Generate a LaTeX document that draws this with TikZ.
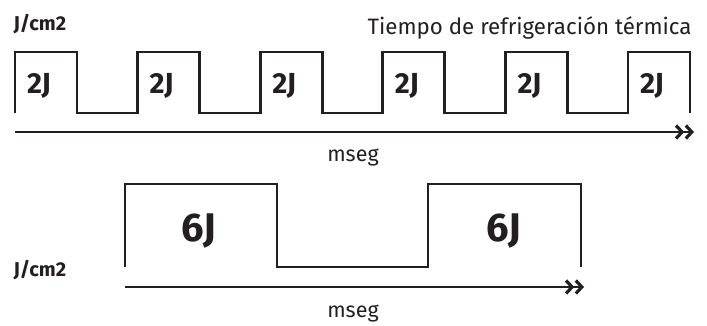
\documentclass[tikz,border=0pt]{standalone}
\usepackage{fontspec}
\setmainfont{Fira Sans}
\usetikzlibrary{arrows.meta}
\definecolor{ink}{RGB}{35,31,32}

\tikzset{
  wave/.style={line width=2.8pt, line join=miter},
  axis/.style={line width=2.8pt, -{Straight Barb[length=6pt,width=13pt,line width=3.2pt]Straight Barb[length=6pt,width=13pt,line width=3.2pt]}},
  unit/.style={font=\fontsize{20}{20}\selectfont\bfseries, anchor=west},
  tlabel/.style={font=\fontsize{21.5}{21.5}\selectfont},
  small/.style={font=\fontsize{29}{29}\selectfont\bfseries},
  big/.style={font=\fontsize{40}{40}\selectfont\bfseries}
}

\begin{document}
\begin{tikzpicture}[x=1pt, y=-1pt, color=ink]
		\useasboundingbox (0,0) rectangle (707,325);

		\node[unit]  (u1) at (10,24) {J/cm2};
		\node[font=\fontsize{22.3}{22.3}\selectfont, anchor=east] (title) at (695,28) {Tiempo de refrigeración térmica};

		\draw[wave] (15,113) \foreach \i in {0,...,4} { -- ++(0,-61) -- ++(62,0) -- ++(0,61) -- ++(60.6,0) } -- ++(0,-61) -- ++(62,0) -- ++(0,61);
		\foreach \i in {0,...,5}
			\node[small] (p\i) at (39+122.6*\i,86) {2J};

		\coordinate (a0) at (15,132);
		\coordinate (a1) at (694,132);
		\draw[axis] (a0) -- (a1);
		\node[tlabel] (t1) at (353,157) {mseg};

		\draw[wave] (125,267) -- (125,184) -- (277,184) -- (277,267) -- (428,267) -- (428,184) -- (581,184) -- (581,267);
		\node[big] (q0) at (199,231) {6J};
		\node[big] (q1) at (504,231) {6J};
		\node[unit]  (u2) at (10,270) {J/cm2};

		\coordinate (b0) at (125,287);
		\coordinate (b1) at (584,287);
		\draw[axis] (b0) -- (b1);
		\node[tlabel] (t2) at (353,313) {mseg};

	\end{tikzpicture}
\end{document}
